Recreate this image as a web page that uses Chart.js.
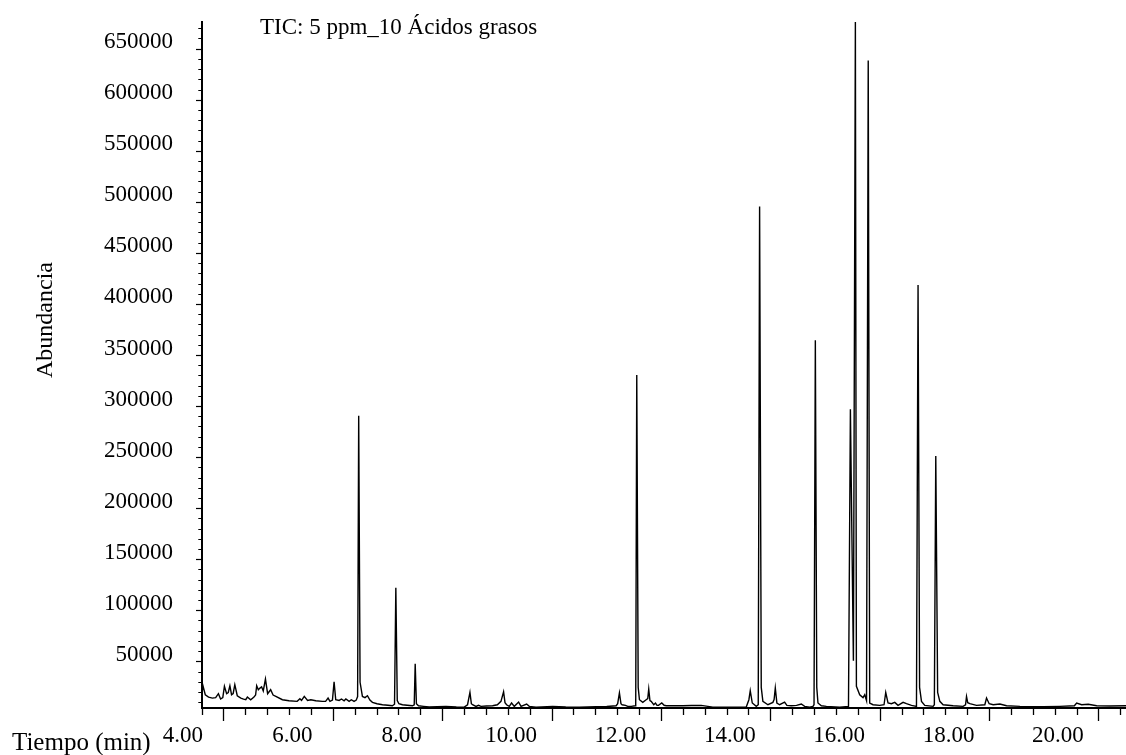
<!DOCTYPE html>
<html lang="es">

<head>
    <meta charset="UTF-8">
    <title>TIC: 5 ppm_10 Ácidos grasos</title>
    <script src="https://cdn.jsdelivr.net/npm/chart.js"></script>
    <style>
        html, body { margin: 0; padding: 0; background: #fff; }
        #grafico { display: block; }
    </style>
</head>

<body>
    <canvas id="grafico" width="1126" height="755"></canvas>

    <script>
        // Cromatograma TIC (tiempo en min, abundancia)
        const tiempo = [
            3.60, 3.62, 3.66, 3.72, 3.79, 3.85, 3.90, 3.94, 3.98, 4.01,
            4.05, 4.08, 4.11, 4.14, 4.17, 4.20, 4.245, 4.31, 4.36, 4.40,
            4.43, 4.49, 4.55, 4.58, 4.60, 4.63, 4.66, 4.69, 4.72, 4.76,
            4.80, 4.855, 4.90, 4.95, 5.07, 5.19, 5.34, 5.39, 5.42, 5.47,
            5.53, 5.59, 5.68, 5.80, 5.86, 5.905, 5.94, 5.985, 6.015, 6.045,
            6.107, 6.15, 6.198, 6.23, 6.29, 6.33, 6.38, 6.42, 6.445, 6.465,
            6.49, 6.533, 6.58, 6.625, 6.67, 6.716, 6.80, 6.90, 7.00, 7.08,
            7.12, 7.144, 7.17, 7.20, 7.265, 7.35, 7.448, 7.48, 7.498, 7.52,
            7.558, 7.65, 7.754, 7.90, 8.06, 8.25, 8.395, 8.455, 8.499, 8.525,
            8.547, 8.609, 8.656, 8.70, 8.80, 8.913, 9.00, 9.066, 9.114, 9.14,
            9.169, 9.218, 9.26, 9.31, 9.389, 9.433, 9.535, 9.584, 9.707, 10.011,
            10.25, 10.50, 10.80, 11.00, 11.172, 11.20, 11.232, 11.26, 11.281, 11.342,
            11.384, 11.45, 11.52, 11.53, 11.549, 11.575, 11.598, 11.659, 11.721, 11.75,
            11.768, 11.79, 11.812, 11.86, 11.891, 11.92, 11.946, 12.006, 12.05, 12.087,
            12.208, 12.391, 12.55, 12.727, 12.94, 13.25, 13.551, 13.599, 13.624, 13.661,
            13.734, 13.77, 13.795, 13.825, 13.855, 13.947, 14.038, 14.06, 14.082, 14.111,
            14.161, 14.252, 14.294, 14.375, 14.47, 14.558, 14.618, 14.71, 14.77, 14.79,
            14.814, 14.84, 14.862, 14.924, 15.016, 15.259, 15.42, 15.455, 15.51, 15.546,
            15.565, 15.625, 15.686, 15.717, 15.75, 15.781, 15.808, 15.869, 15.991, 16.07,
            16.101, 16.143, 16.205, 16.266, 16.326, 16.418, 16.48, 16.572, 16.663, 16.692,
            16.72, 16.755, 16.815, 16.967, 16.99, 17.016, 17.05, 17.09, 17.15, 17.333,
            17.516, 17.56, 17.578, 17.60, 17.639, 17.761, 17.913, 17.944, 17.992, 18.065,
            18.188, 18.31, 18.554, 18.98, 19.286, 19.55, 19.592, 19.683, 19.804, 19.958,
            20.20, 20.494
        ];
        const abundancia = [
            20000, 26000, 17800, 15500, 14500, 15000, 18800, 13600, 15000, 26000,
            18800, 20000, 26600, 17800, 19000, 27600, 16800, 14500, 13500, 12900,
            15500, 12900, 15500, 17500, 26600, 22700, 24300, 25500, 21500, 33100,
            18800, 22700, 17500, 16200, 12900, 11900, 11300, 13900, 12200, 16200,
            12200, 12900, 11900, 11300, 11300, 14500, 11300, 12500, 30500, 12900,
            12200, 13600, 11900, 13600, 11300, 12900, 11300, 12500, 16000, 291000,
            30000, 16100, 15000, 16800, 12500, 10300, 9000, 8000, 7500, 7000,
            8500, 122500, 12000, 9000, 8000, 7500, 7000, 8000, 48100, 9000,
            7000, 6400, 5800, 6000, 6400, 5800, 5700, 8000, 20000, 9000,
            8000, 6400, 7400, 6400, 6800, 7000, 8000, 11300, 20700, 10000,
            8000, 6400, 9700, 6400, 10600, 6400, 8700, 6400, 5700, 6400,
            5800, 5700, 6000, 6200, 7000, 9000, 19500, 9000, 8000, 7400,
            6400, 6400, 7000, 9000, 331000, 25000, 12900, 10300, 12900, 14000,
            23400, 12000, 11300, 8000, 9700, 7400, 7400, 9700, 7500, 7000,
            7000, 7000, 7200, 7400, 5700, 5700, 5700, 12900, 21700, 9700,
            6400, 8000, 496000, 25000, 11300, 8000, 10300, 13000, 24400, 9700,
            8000, 10600, 7400, 7000, 7400, 8700, 6400, 5700, 6400, 8000,
            365000, 25000, 9700, 7000, 6400, 5700, 6400, 297300, 51100, 677000,
            26000, 17800, 15000, 17800, 12000, 638900, 9700, 8000, 7400, 8000,
            20000, 9700, 9000, 10300, 7400, 10300, 9000, 7400, 6400, 419000,
            25000, 11300, 7400, 6400, 8000, 251700, 20000, 11300, 8000, 7000,
            6400, 8000, 16100, 10000, 9000, 7400, 8000, 14600, 9000, 8000,
            8700, 7000, 6400, 6000, 6400, 7000, 9700, 8000, 8400, 7000,
            6800, 7000
        ];

        // Marcas del eje X (min) y etiquetas
        const marcasX = [
            3.6, 4.0, 4.4, 4.8, 5.2, 5.6, 6.0, 6.4, 6.8, 7.2, 7.6, 8.0, 8.4, 8.8,
            9.2, 9.6, 10.0, 10.4, 10.8, 11.2, 11.6, 12.0, 12.4, 12.8, 13.2, 13.6,
            14.0, 14.4, 14.8, 15.2, 15.6, 16.0, 16.4, 16.8, 17.2, 17.6, 18.0, 18.4,
            18.8, 19.2, 19.6, 20.0, 20.4
        ];
        const valoresEtiquetasX = [4, 6, 8, 10, 12, 14, 16, 18, 20];
        const etiquetasX = ['4.00', '6.00', '8.00', '10.00', '12.00', '14.00', '16.00', '18.00', '20.00'];

        // Eje Y: marcas cada 10000, etiqueta cada 50000
        const pasoMenorY = 10000;
        const pasoMayorY = 50000;
        const minY = 4800;
        const maxY = 676600;

        const titulo = 'TIC: 5 ppm_10 Ácidos grasos';
        const tituloX = 'Tiempo (min)';
        const tituloY = 'Abundancia';

        const fuente = '"Liberation Serif", "Times New Roman", serif';

        function esMayorX(v) {
            return valoresEtiquetasX.some(e => Math.abs(e - v) < 1e-6);
        }
        function esMayorY(v) {
            return Math.round(v) % pasoMayorY === 0;
        }

        // Textos fuera de los ejes (titulo, nombres de ejes)
        const textos = {
            id: 'textos',
            afterDraw(chart) {
                const { ctx, chartArea } = chart;
                ctx.save();
                ctx.fillStyle = '#000';
                ctx.textBaseline = 'alphabetic';
                ctx.textAlign = 'left';
                ctx.font = '23px ' + fuente;
                ctx.fillText(titulo, chartArea.left + 58, chartArea.top + 12);
                ctx.font = '25px ' + fuente;
                ctx.fillText(tituloX, 12, 750);
                ctx.translate(52, 320);
                ctx.rotate(-Math.PI / 2);
                ctx.textAlign = 'center';
                ctx.font = '24px ' + fuente;
                ctx.fillText(tituloY, 0, 0);
                ctx.restore();
            }
        };

        const canvas = document.getElementById('grafico').getContext('2d');

        const grafico = new Chart(canvas, {
            type: 'line',
            data: {
                datasets: [{
                    label: 'TIC',
                    data: tiempo.map((t, i) => ({ x: t, y: abundancia[i] })),
                    borderColor: '#000',
                    borderWidth: 1.4,
                    pointRadius: 0,
                    tension: 0,
                    fill: false
                }]
            },
            options: {
                responsive: false,
                animation: false,
                devicePixelRatio: 1,
                layout: { padding: { top: 22, right: 0, bottom: 0, left: 0 } },
                plugins: {
                    legend: { display: false },
                    tooltip: { enabled: false },
                    title: { display: false }
                },
                scales: {
                    x: {
                        type: 'linear',
                        position: 'bottom',
                        min: 3.6,
                        max: 20.494,
                        afterBuildTicks: s => { s.ticks = marcasX.map(v => ({ value: v })); },
                        afterFit: s => {
                            s.height = 47;
                            s.paddingLeft = 0;
                            s.paddingRight = 0;
                        },
                        border: { display: true, color: '#000', width: 2 },
                        grid: {
                            display: true,
                            drawOnChartArea: false,
                            drawTicks: true,
                            tickLength: 13,
                            tickColor: '#000',
                            tickWidth: 1.3,
                            tickBorderDash: c => (c.tick && esMayorX(c.tick.value)) ? [] : [6, 100]
                        },
                        ticks: {
                            autoSkip: false,
                            maxRotation: 0,
                            minRotation: 0,
                            padding: 1,
                            labelOffset: -41,
                            color: '#000',
                            font: { family: fuente, size: 23 },
                            callback: v => {
                                const i = valoresEtiquetasX.findIndex(e => Math.abs(e - v) < 1e-6);
                                return i >= 0 ? etiquetasX[i] : '';
                            }
                        }
                    },
                    y: {
                        type: 'linear',
                        position: 'left',
                        min: minY,
                        max: maxY,
                        afterBuildTicks: s => {
                            const marcas = [];
                            for (let v = pasoMenorY; v <= maxY; v += pasoMenorY) marcas.push({ value: v });
                            s.ticks = marcas;
                        },
                        afterFit: s => {
                            s.width = 202;
                            s.paddingTop = 0;
                            s.paddingBottom = 0;
                        },
                        border: { display: true, color: '#000', width: 2 },
                        grid: {
                            display: true,
                            drawOnChartArea: false,
                            drawTicks: true,
                            tickLength: 6,
                            tickColor: '#000',
                            tickWidth: 1.2,
                            tickBorderDash: c => (c.tick && esMayorY(c.tick.value)) ? [] : [0, 2.3, 3, 100]
                        },
                        ticks: {
                            autoSkip: false,
                            padding: 23,
                            labelOffset: -7,
                            color: '#000',
                            font: { family: fuente, size: 23 },
                            callback: v => esMayorY(v) ? String(v) : ''
                        }
                    }
                }
            },
            plugins: [textos]
        });
    </script>
</body>

</html>
